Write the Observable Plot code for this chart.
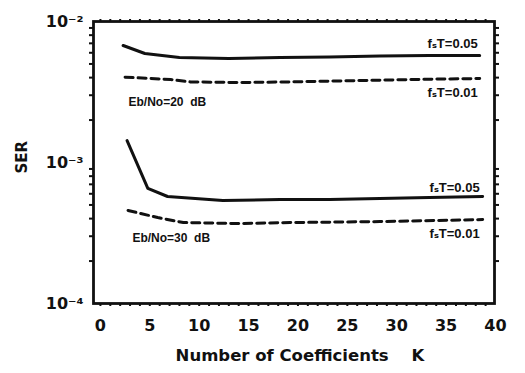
<!DOCTYPE html>
<html><head><meta charset="utf-8">
<script src="https://cdn.jsdelivr.net/npm/d3@7"></script>
<script src="https://cdn.jsdelivr.net/npm/@observablehq/plot@0.6"></script>
<style>
body{margin:0;background:#fff}
#chart svg{font-family:"Liberation Sans",Arial,"DejaVu Sans",sans-serif;}
</style>
</head><body><div id="chart"></div>
<script>
// Eb/No = 20 dB
const k20a = [2.3, 4.5, 8, 13, 18.2, 23.2, 28.3, 33.3, 38.4];
const ser20a = [6.76e-3, 5.93e-3, 5.56e-3, 5.47e-3, 5.56e-3, 5.60e-3, 5.69e-3, 5.74e-3, 5.74e-3]; // fsT=0.05
const k20b = [2.5, 7.1, 9.1, 14.1, 19.2, 24.2, 29.3, 34.3, 38.4];
const ser20b = [4.03e-3, 3.88e-3, 3.73e-3, 3.69e-3, 3.73e-3, 3.79e-3, 3.85e-3, 3.91e-3, 3.94e-3]; // fsT=0.01
// Eb/No = 30 dB
const k30a = [2.7, 4.8, 6.8, 12.4, 18.2, 23.2, 28.3, 33.3, 38.7];
const ser30a = [1.43e-3, 6.55e-4, 5.74e-4, 5.37e-4, 5.46e-4, 5.46e-4, 5.56e-4, 5.65e-4, 5.74e-4]; // fsT=0.05
const k30b = [2.8, 5.8, 8.4, 14.1, 19.2, 28.3, 38.7];
const ser30b = [4.57e-4, 4.07e-4, 3.75e-4, 3.69e-4, 3.75e-4, 3.81e-4, 3.94e-4]; // fsT=0.01

const xTicks = [0, 5, 10, 15, 20, 25, 30, 35, 40];
const xMinorTicks = d3.range(0, 40, 1);
const yTicks = [1e-4, 1e-3, 1e-2];
const yTickLabels = ["10⁻⁴", "10⁻³", "10⁻²"];
const yMinorTicks = [1e-4, 1e-3].flatMap(b => [2,3,4,5,6,7,8,9].map(m => b * m));

const xLabel = "Number of Coefficients    K";
const yLabel = "SER";

// annotations (K, SER, text)
const labelsRight = [
  {K: 38.2, SER: 6.9e-3, text: "fₛT=0.05"},
  {K: 38.2, SER: 3.13e-3, text: "fₛT=0.01"},
  {K: 38.4, SER: 6.6e-4, text: "fₛT=0.05"},
  {K: 38.4, SER: 3.13e-4, text: "fₛT=0.01"}
];
const labelsLeft = [
  {K: 2.84, SER: 2.67e-3, text: "Eb/No=20  dB"},
  {K: 3.24, SER: 2.89e-4, text: "Eb/No=30  dB"}
];

const rows = (k, s, id) => k.map((K, i) => ({K, SER: s[i], id}));
const solid = [...rows(k20a, ser20a, "20"), ...rows(k30a, ser30a, "30")];
const dashed = [...rows(k20b, ser20b, "20"), ...rows(k30b, ser30b, "30")];

const ink = "#111";
const wide = "DejaVu Sans";
const chart = Plot.plot({
  width: 525, height: 373,
  marginLeft: 93, marginRight: 31, marginTop: 21, marginBottom: 70,
  x: {domain: [-0.7, 39.9]},
  y: {type: "log", domain: [1e-4, 1e-2]},
  style: {background: "#fff", color: ink},
  marks: [
    Plot.axisY({ticks: yMinorTicks, tickSize: 4, tickFormat: () => "", label: null, strokeWidth: 2}),
    Plot.axisY({ticks: yMinorTicks, anchor: "right", tickSize: 4, tickFormat: () => "", label: null, strokeWidth: 2}),
    Plot.axisY({ticks: yTicks, tickSize: 0, tickPadding: 10, tickFormat: d => yTickLabels[yTicks.indexOf(d)], label: null, fontSize: 16, fontWeight: "bold", fontFamily: wide}),
    Plot.axisX({ticks: xMinorTicks, tickSize: 3, tickFormat: () => "", label: null, strokeWidth: 2}),
    Plot.axisX({ticks: xMinorTicks, anchor: "top", tickSize: 3, tickFormat: () => "", label: null, strokeWidth: 2}),
    Plot.axisX({ticks: xTicks, tickSize: 0, tickPadding: 16, label: null, fontSize: 16, fontWeight: "bold", fontFamily: wide}),
    Plot.frame({stroke: ink, strokeWidth: 2.8}),
    Plot.line(solid, {x: "K", y: "SER", z: "id", stroke: ink, strokeWidth: 3}),
    Plot.line(dashed, {x: "K", y: "SER", z: "id", stroke: ink, strokeWidth: 3, strokeDasharray: "8,5"}),
    Plot.text(labelsRight, {x: "K", y: "SER", text: "text", textAnchor: "end", fontSize: 13, fontWeight: "bold", fill: ink}),
    Plot.text(labelsLeft, {x: "K", y: "SER", text: "text", textAnchor: "start", fontSize: 12, fontWeight: "bold", fill: ink}),
    Plot.text([xLabel], {text: d => d, frameAnchor: "bottom", dx: 6, dy: 57, fontSize: 16.5, fontWeight: "bold", fontFamily: wide, fill: ink}),
    Plot.text([yLabel], {text: d => d, frameAnchor: "left", rotate: -90, dx: -71, dy: 11, fontSize: 15, fontWeight: "bold", fontFamily: wide, fill: ink})
  ]
});
document.getElementById("chart").append(chart);
</script>
</body></html>
